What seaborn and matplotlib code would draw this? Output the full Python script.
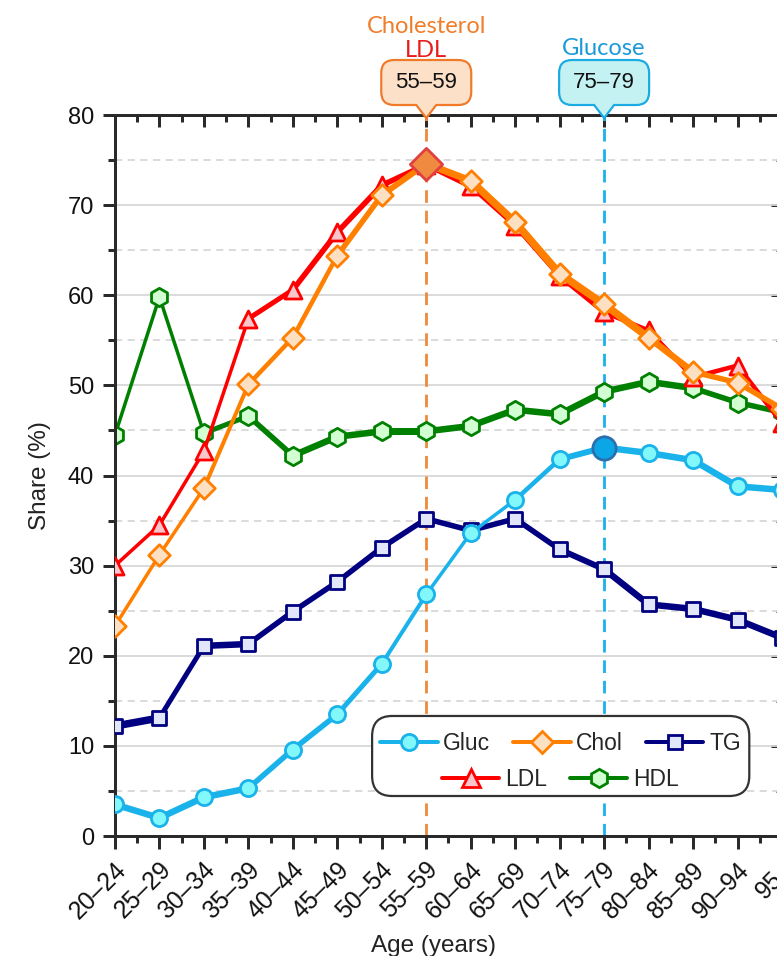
import matplotlib
matplotlib.use("Agg")
import matplotlib.pyplot as plt
import matplotlib.transforms as mtransforms
from matplotlib.path import Path
from matplotlib.patches import PathPatch, FancyBboxPatch
from matplotlib.lines import Line2D
from matplotlib.ticker import MultipleLocator, FixedLocator
import seaborn as sns
import pandas as pd
import numpy as np

# ---------------- data ----------------
age_groups = ["20–24", "25–29", "30–34", "35–39", "40–44", "45–49", "50–54", "55–59",
              "60–64", "65–69", "70–74", "75–79", "80–84", "85–89", "90–94", "95+"]
gluc = [3.5, 2.0, 4.3, 5.3, 9.6, 13.5, 19.1, 26.8, 33.6, 37.3, 41.8, 43.1, 42.5, 41.7, 38.8, 38.4]
chol = [23.3, 31.2, 38.6, 50.1, 55.3, 64.4, 71.1, 74.6, 72.7, 68.1, 62.4, 59.0, 55.3, 51.5, 50.3, 47.4]
tg = [12.2, 13.1, 21.1, 21.3, 24.9, 28.2, 32.0, 35.2, 33.9, 35.2, 31.8, 29.6, 25.7, 25.2, 24.0, 22.0]
ldl = [30.0, 34.5, 42.7, 57.4, 60.6, 67.0, 72.2, 74.5, 72.1, 67.7, 62.1, 58.1, 56.1, 50.9, 52.2, 45.8]
hdl = [44.5, 59.8, 44.7, 46.6, 42.2, 44.3, 44.9, 44.9, 45.5, 47.3, 46.8, 49.3, 50.4, 49.7, 48.1, 47.0]
peak_chol_ldl = "55–59"
peak_gluc = "75–79"

# ---------------- style ----------------
seg_w = {  # per-segment line widths in px
    "Gluc": [6.5, 6.5, 6.5, 5.5, 5.5, 5, 4, 3.5, 3.5, 4.5, 6, 6.5, 6.5, 6.5, 6.5],
    "Chol": [3.5, 3.5, 4, 4.5, 4.5, 5.5, 6, 7, 7.5, 7.5, 7.5, 7.5, 6.5, 5.5, 5.5],
    "LDL": [3.5, 3.5, 3.5, 5, 5.5, 5.5, 5.5, 5.5, 4.5, 4.5, 4.5, 4.5, 4.5, 4.5, 4.5],
    "HDL": [3.5, 3.5, 5, 5.5, 6.5, 6.5, 7, 6.5, 6.5, 6.5, 6.5, 6.5, 6.5, 5.5, 5.5],
    "TG": [7.5, 5, 6.5, 5.5, 5.5, 5.5, 5.5, 5.5, 5.5, 5.5, 6, 6.5, 6.5, 6.5, 6.5],
}
series = [  # name, values, line color, marker, marker fill, size, zorder
    ("HDL", hdl, "#008000", "h", "#d2ffd2", 175, 2),
    ("TG", tg, "#000080", "s", "#e2e6fa", 115, 3),
    ("LDL", ldl, "#ff0000", "^", "#f9c6cc", 150, 4),
    ("Chol", chol, "#ff8000", "D", "#fde0c2", 120, 5),
    ("Gluc", gluc, "#1ab2ea", "o", "#82f8fa", 135, 6),
]

sns.set_theme(style="white")
plt.rcParams["font.family"] = ["Liberation Sans", "DejaVu Sans"]
PX = 0.72  # points per pixel at dpi 100

fig = plt.figure(figsize=(7.77, 9.56), dpi=100)
ax = fig.add_axes([0.148, 0.1255, 0.8584, 0.7542])
xpos = np.arange(len(age_groups))

for name, vals, col, mk, fill, size, z in series:
    w = seg_w[name]
    for i in range(len(vals) - 1):
        seg = pd.DataFrame({"x": xpos[i:i + 2], "y": vals[i:i + 2]})
        sns.lineplot(data=seg, x="x", y="y", ax=ax, color=col, linewidth=w[i] * PX,
                     legend=False, zorder=z, solid_capstyle="round", sort=False)
    df = pd.DataFrame({"x": xpos, "y": vals})
    sns.scatterplot(data=df, x="x", y="y", ax=ax, marker=mk, s=size, color=fill,
                    edgecolor=col, linewidth=2.0, zorder=z + 0.5, legend=False)

# highlighted peaks
ic = age_groups.index(peak_chol_ldl)
ig = age_groups.index(peak_gluc)
sns.scatterplot(x=[xpos[ic]], y=[chol[ic]], ax=ax, marker="D", s=270, color="#f08a40",
                edgecolor="#e04040", linewidth=2.0, zorder=7, legend=False)
sns.scatterplot(x=[xpos[ig]], y=[gluc[ig]], ax=ax, marker="o", s=280, color="#0aa6e6",
                edgecolor="#2a6fae", linewidth=2.0, zorder=7, legend=False)

# vertical reference lines
ax.axvline(xpos[ic], color="#ee8a3a", lw=2.8 * PX, ls=(0, (4.5, 2.8)), zorder=1.5)
ax.axvline(xpos[ig], color="#1ab2ea", lw=2.8 * PX, ls=(0, (4.5, 2.8)), zorder=1.5)

# axes limits, ticks, grid
ax.set_xlim(0, len(age_groups) - 1)
ax.set_ylim(0, 80)
ax.xaxis.set_major_locator(FixedLocator(xpos))
ax.xaxis.set_minor_locator(MultipleLocator(0.5))
ax.yaxis.set_major_locator(MultipleLocator(10))
ax.yaxis.set_minor_locator(MultipleLocator(5))
ax.set_axisbelow(True)
ax.yaxis.grid(True, which="major", color="#d8d8d8", lw=1.3)
ax.yaxis.grid(True, which="minor", color="#d8d8d8", lw=1.3, ls=(0, (4, 3)))
ax.xaxis.grid(False)

spine_c = "#2a2a2a"
for s in ["left", "bottom", "top", "right"]:
    ax.spines[s].set_visible(True)
    ax.spines[s].set_color(spine_c)
    ax.spines[s].set_linewidth(3.0 * PX)

ax.tick_params(axis="both", which="major", direction="out", length=9, width=3 * PX,
               color=spine_c, labelsize=17, labelcolor="#111111")
ax.tick_params(axis="both", which="minor", direction="out", length=5, width=3 * PX,
               color=spine_c)
ax.tick_params(axis="x", which="both", top=False, bottom=True, labelbottom=False)
ax.tick_params(axis="y", which="both", left=True, right=False)
ax.tick_params(axis="y", which="major", pad=6)

# rotated category labels under the x ticks
for i, lab in enumerate(age_groups):
    ax.annotate(lab, xy=(xpos[i], 0), xycoords=ax.get_xaxis_transform(),
                xytext=(5.5, -21.5), textcoords="offset points", rotation=45,
                ha="right", va="center", rotation_mode="anchor", fontsize=17.8,
                color="#111111", annotation_clip=False)

secx = ax.secondary_xaxis("top")
secx.xaxis.set_major_locator(FixedLocator(xpos))
secx.xaxis.set_minor_locator(MultipleLocator(0.5))
secx.tick_params(which="major", direction="in", length=8.5, width=3 * PX, color=spine_c,
                 labeltop=False)
secx.tick_params(which="minor", direction="in", length=5, width=3 * PX, color=spine_c)
secx.spines["top"].set_linewidth(3.0 * PX)
secx.spines["top"].set_color(spine_c)

secy = ax.secondary_yaxis("right")
secy.yaxis.set_major_locator(MultipleLocator(10))
secy.yaxis.set_minor_locator(MultipleLocator(5))
secy.tick_params(which="major", direction="in", length=8, width=3 * PX, color=spine_c,
                 labelright=False)
secy.tick_params(which="minor", direction="in", length=4.5, width=3 * PX, color=spine_c)

ax.set_xlabel("Age (years)", fontsize=17.5, color="#222222")
ax.xaxis.set_label_coords(0.478, -0.137)
ax.set_ylabel("Share (%)", fontsize=17.5, color="#222222", labelpad=12)

# legend (two centred rows inside one rounded frame)
def handle(name):
    for n, vals, col, mk, fill, size, z in series:
        if n == name:
            return Line2D([0], [0], color=col, lw=4 * PX, marker=mk, markersize=np.sqrt(size),
                          markerfacecolor=fill, markeredgecolor=col, markeredgewidth=2.0)

leg_kw = dict(frameon=False, fontsize=16.5, handlelength=2.5, handletextpad=0.25,
              columnspacing=1.0, borderpad=0.2, labelspacing=0.2)
row1 = ["Gluc", "Chol", "TG"]
row2 = ["LDL", "HDL"]
leg1 = ax.legend([handle(n) for n in row1], row1, ncol=3, loc="center",
                 bbox_to_anchor=(0.668, 0.128), **leg_kw)
ax.add_artist(leg1)
leg2 = ax.legend([handle(n) for n in row2], row2, ncol=2, loc="center",
                 bbox_to_anchor=(0.668, 0.078), **leg_kw)
leg1.set_zorder(11)
leg2.set_zorder(11)
box = FancyBboxPatch((0.3855, 0.0555), 0.5655, 0.1110, transform=ax.transAxes,
                     boxstyle="round,pad=0,rounding_size=0.03", facecolor="white",
                     edgecolor="#333333", linewidth=1.6, zorder=10, mutation_aspect=0.93)
ax.add_patch(box)

# callouts above the plot
def callout(ix, fill, edge, label):
    tip = ax.get_xaxis_transform().transform((ix, 1.0))
    W, yb, yt, r, hb = 45, 10, 55, 13, 10
    verts = [(-hb, yb), (0, -3), (hb, yb), (W - r, yb), (W, yb), (W, yb + r), (W, yt - r),
             (W, yt), (W - r, yt), (-W + r, yt), (-W, yt), (-W, yt - r), (-W, yb + r),
             (-W, yb), (-W + r, yb), (-hb, yb)]
    codes = [Path.MOVETO, Path.LINETO, Path.LINETO, Path.LINETO, Path.CURVE3, Path.CURVE3,
             Path.LINETO, Path.CURVE3, Path.CURVE3, Path.LINETO, Path.CURVE3, Path.CURVE3,
             Path.LINETO, Path.CURVE3, Path.CURVE3, Path.CLOSEPOLY]
    patch = PathPatch(Path(verts, codes), facecolor=fill, edgecolor=edge, lw=2.2 * PX,
                      transform=mtransforms.Affine2D().translate(tip[0], tip[1]),
                      clip_on=False, zorder=12)
    ax.add_artist(patch)
    ax.annotate(label, xy=(ix, 1.0), xycoords=ax.get_xaxis_transform(),
                xytext=(0, 33 * PX), textcoords="offset points", ha="center", va="center",
                fontsize=16, color="#111111", annotation_clip=False, zorder=13)

callout(xpos[ic], "#fde0c8", "#f07a2a", peak_chol_ldl)
callout(xpos[ig], "#c4f2f2", "#1aaae4", peak_gluc)

title_font = ["Lato", "Open Sans", "DejaVu Sans"]
ax.annotate("Cholesterol", xy=(xpos[ic], 1.0), xycoords=ax.get_xaxis_transform(),
            xytext=(0, 89 * PX), textcoords="offset points", ha="center", va="center",
            fontsize=17, color="#f07d2a", family=title_font, annotation_clip=False)
ax.annotate("LDL", xy=(xpos[ic], 1.0), xycoords=ax.get_xaxis_transform(),
            xytext=(0, 65 * PX), textcoords="offset points", ha="center", va="center",
            fontsize=17, color="#e81c1c", family=title_font, annotation_clip=False)
ax.annotate("Glucose", xy=(xpos[ig], 1.0), xycoords=ax.get_xaxis_transform(),
            xytext=(0, 67 * PX), textcoords="offset points", ha="center", va="center",
            fontsize=17, color="#1a9ad8", family=title_font, annotation_clip=False)

fig.savefig("out.png", dpi=100)
